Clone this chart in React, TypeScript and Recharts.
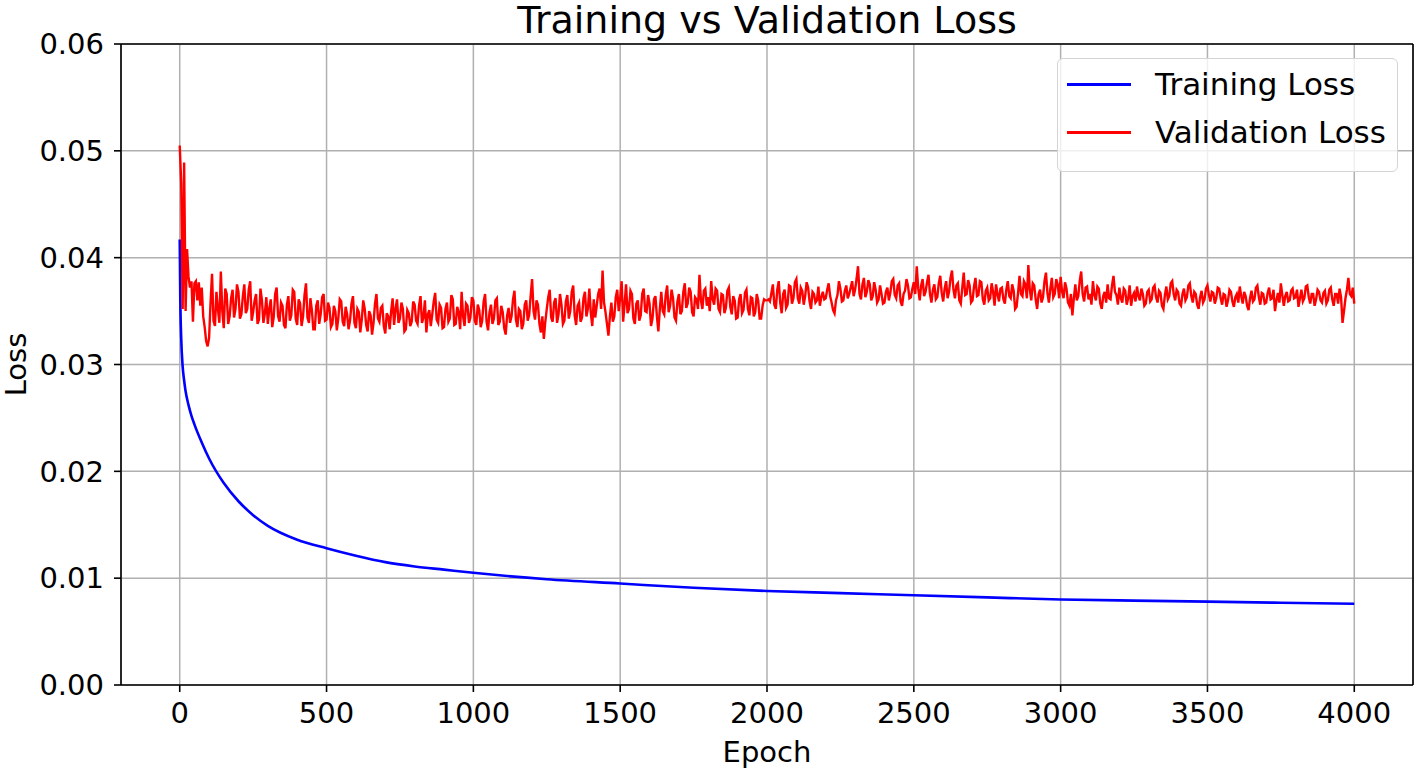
import React from "react";
import { LineChart, Line, XAxis, YAxis, CartesianGrid, Legend, ReferenceLine } from "recharts";

const FONT = "'DejaVu Sans', sans-serif";

// axis ticks
const epochTicks = [0, 500, 1000, 1500, 2000, 2500, 3000, 3500, 4000];
const lossTicks = [0, 0.01, 0.02, 0.03, 0.04, 0.05, 0.06];

// training loss (smooth curve, read at selected epochs)
const trainEpochs = [0, 2, 5, 10, 15, 20, 30, 40, 50, 75, 100, 150, 200, 250, 300, 400, 500, 600, 700, 800, 900, 1000, 1250, 1500, 1750, 2000, 2250, 2500, 2750, 3000, 3250, 3500, 3750, 4000];
const trainLoss = [0.0417, 0.036, 0.0325, 0.0298, 0.0285, 0.0275, 0.0262, 0.0252, 0.0244, 0.0227, 0.0212, 0.0189, 0.0172, 0.0159, 0.0149, 0.0136, 0.0128, 0.0121, 0.0115, 0.0111, 0.0108, 0.0105, 0.0099, 0.0095, 0.0091, 0.0088, 0.0086, 0.0084, 0.0082, 0.008, 0.0079, 0.0078, 0.0077, 0.0076];

// validation loss, epochs 0..95
const valEarlyEpochs = [0, 5, 10, 15, 20, 25, 30, 35, 40, 45, 50, 55, 60, 65, 70, 75, 80, 85, 90, 95];
const valEarlyLoss = [0.0505, 0.047, 0.0352, 0.0489, 0.035, 0.0408, 0.0382, 0.0372, 0.0378, 0.034, 0.0376, 0.0378, 0.036, 0.0377, 0.0355, 0.0372, 0.0345, 0.0335, 0.0322, 0.0317];

// validation loss, epochs 100..4000 every 5 (one row = 100 epochs)
const valMainStart = 100;
const valMainStep = 5;
const valMainLoss = [
  0.0325, 0.0358, 0.0385, 0.0341, 0.0336, 0.0368, 0.0352, 0.0339, 0.0387, 0.035, 0.0334, 0.0371, 0.0366, 0.0338, 0.0345, 0.0362, 0.037, 0.0344, 0.0352, 0.0375,
  0.0368, 0.0343, 0.0347, 0.0364, 0.0375, 0.0348, 0.0352, 0.037, 0.0378, 0.0341, 0.0349, 0.036, 0.0366, 0.0338, 0.0342, 0.0371, 0.036, 0.0339, 0.0348, 0.0363,
  0.0338, 0.0352, 0.0361, 0.0335, 0.0344, 0.0366, 0.0372, 0.0345, 0.034, 0.0358, 0.0355, 0.0337, 0.0334, 0.0356, 0.0364, 0.0341, 0.0346, 0.037, 0.0368, 0.0343,
  0.0337, 0.0361, 0.0357, 0.0336, 0.0345, 0.0365, 0.0376, 0.0344, 0.0339, 0.0362, 0.0351, 0.0333, 0.0333, 0.0355, 0.036, 0.0338, 0.0347, 0.0363, 0.0366, 0.0341,
  0.0342, 0.0358, 0.0353, 0.0335, 0.0338, 0.0355, 0.035, 0.0332, 0.0343, 0.0361, 0.0359, 0.034, 0.0336, 0.0354, 0.0347, 0.0333, 0.0341, 0.0357, 0.0364, 0.0339,
  0.0334, 0.0352, 0.0349, 0.033, 0.0342, 0.036, 0.0352, 0.0337, 0.0331, 0.035, 0.0346, 0.0328, 0.0339, 0.0357, 0.0366, 0.0343, 0.034, 0.0353, 0.0355, 0.0336,
  0.0329, 0.0348, 0.0345, 0.0333, 0.035, 0.0362, 0.0337, 0.0352, 0.0361, 0.0339, 0.0343, 0.0358, 0.0352, 0.0331, 0.0333, 0.0351, 0.0348, 0.0336, 0.034, 0.0359,
  0.0356, 0.0341, 0.0338, 0.0355, 0.0364, 0.0339, 0.0344, 0.036, 0.033, 0.0347, 0.0351, 0.0336, 0.0347, 0.0359, 0.0367, 0.0342, 0.0339, 0.0356, 0.0353, 0.0334,
  0.0335, 0.0352, 0.0358, 0.034, 0.0343, 0.0365, 0.0361, 0.0337, 0.0338, 0.0354, 0.0349, 0.0333, 0.0368, 0.0345, 0.0336, 0.0357, 0.0355, 0.0339, 0.0344, 0.0363,
  0.036, 0.0341, 0.0337, 0.0356, 0.0351, 0.0335, 0.0341, 0.0359, 0.0366, 0.034, 0.0332, 0.0349, 0.0356, 0.0338, 0.0343, 0.036, 0.0362, 0.0337, 0.034, 0.0355,
  0.0349, 0.0334, 0.0328, 0.0346, 0.0353, 0.0339, 0.0345, 0.0361, 0.0369, 0.0342, 0.0335, 0.0352, 0.035, 0.0333, 0.0338, 0.0356, 0.036, 0.0341, 0.0346, 0.0364,
  0.038, 0.035, 0.0342, 0.036, 0.0356, 0.0338, 0.033, 0.0345, 0.0324, 0.034, 0.0352, 0.0363, 0.037, 0.0344, 0.034, 0.0358, 0.0362, 0.0339, 0.0347, 0.0366,
  0.0356, 0.0338, 0.0341, 0.0359, 0.0365, 0.0343, 0.035, 0.0368, 0.0374, 0.0346, 0.0337, 0.0355, 0.0358, 0.034, 0.0344, 0.0362, 0.0368, 0.0345, 0.0352, 0.0371,
  0.0348, 0.0336, 0.0361, 0.0344, 0.0355, 0.0366, 0.0371, 0.0352, 0.0388, 0.0358, 0.0349, 0.0338, 0.0327, 0.0345, 0.0358, 0.034, 0.0345, 0.0363, 0.037, 0.035,
  0.0362, 0.0378, 0.034, 0.0356, 0.0375, 0.0348, 0.0352, 0.0369, 0.0366, 0.0343, 0.0338, 0.0357, 0.036, 0.0341, 0.0346, 0.0366, 0.0371, 0.035, 0.0349, 0.0365,
  0.0357, 0.0336, 0.0343, 0.0361, 0.0364, 0.0345, 0.0331, 0.0352, 0.0368, 0.035, 0.0347, 0.0365, 0.0374, 0.0349, 0.0355, 0.037, 0.0362, 0.0344, 0.0341, 0.0359,
  0.0366, 0.0347, 0.035, 0.0368, 0.0376, 0.0353, 0.0357, 0.0372, 0.0368, 0.0349, 0.0345, 0.0363, 0.0361, 0.0352, 0.0384, 0.036, 0.0352, 0.0369, 0.0371, 0.0355,
  0.0363, 0.035, 0.0378, 0.0361, 0.0356, 0.0371, 0.0369, 0.0352, 0.0349, 0.0366, 0.0365, 0.0348, 0.0353, 0.0369, 0.0372, 0.0354, 0.0347, 0.0364, 0.036, 0.0343,
  0.0344, 0.0361, 0.0366, 0.0348, 0.0351, 0.0367, 0.037, 0.0352, 0.0346, 0.0363, 0.0362, 0.0345, 0.0349, 0.0366, 0.036, 0.0343, 0.0343, 0.0355, 0.0361, 0.036,
  0.036, 0.0361, 0.0359, 0.0367, 0.0375, 0.0356, 0.0352, 0.037, 0.0378, 0.0358, 0.0348, 0.0366, 0.037, 0.0353, 0.0356, 0.0374, 0.0373, 0.0357, 0.0362, 0.0377,
  0.038, 0.0362, 0.0357, 0.0372, 0.0369, 0.0356, 0.0364, 0.0377, 0.0372, 0.0359, 0.0352, 0.0368, 0.0366, 0.0358, 0.036, 0.0373, 0.0355, 0.0363, 0.0368, 0.0361,
  0.0362, 0.037, 0.0376, 0.0364, 0.0358, 0.0351, 0.0348, 0.036, 0.0365, 0.0378, 0.0371, 0.0359, 0.036, 0.0369, 0.0374, 0.0362, 0.0366, 0.0372, 0.0378, 0.0364,
  0.037, 0.038, 0.0392, 0.0366, 0.0361, 0.0375, 0.0381, 0.0363, 0.0368, 0.0379, 0.0375, 0.036, 0.0364, 0.0377, 0.037, 0.0358, 0.0361, 0.0374, 0.0366, 0.0357,
  0.0358, 0.0368, 0.0372, 0.036, 0.0367, 0.0378, 0.038, 0.0365, 0.0362, 0.0374, 0.0376, 0.0359, 0.0355, 0.0366, 0.0369, 0.038, 0.0374, 0.0362, 0.0363, 0.0371,
  0.0377, 0.0366, 0.0392, 0.0371, 0.036, 0.0374, 0.038, 0.0364, 0.0368, 0.0377, 0.0384, 0.0366, 0.0358, 0.037, 0.0375, 0.0361, 0.0363, 0.0376, 0.0383, 0.0367,
  0.0359, 0.0371, 0.0378, 0.0362, 0.0368, 0.0381, 0.0388, 0.037, 0.0362, 0.0374, 0.0376, 0.036, 0.0357, 0.0372, 0.0386, 0.0365, 0.0366, 0.0379, 0.0374, 0.0358,
  0.036, 0.0373, 0.0381, 0.0364, 0.0365, 0.0378, 0.0377, 0.0361, 0.0356, 0.0369, 0.0372, 0.036, 0.0362, 0.0376, 0.0368, 0.0355, 0.0375, 0.0366, 0.0359, 0.0371,
  0.0372, 0.0361, 0.0357, 0.037, 0.0378, 0.0364, 0.0362, 0.0375, 0.0369, 0.0352, 0.0354, 0.0367, 0.0383, 0.0366, 0.0364, 0.0378, 0.0375, 0.0362, 0.0393, 0.037,
  0.036, 0.0376, 0.0374, 0.0361, 0.0352, 0.0366, 0.037, 0.0358, 0.0363, 0.0378, 0.0386, 0.0367, 0.0358, 0.0371, 0.0381, 0.0363, 0.0366, 0.038, 0.0375, 0.0362,
  0.0382, 0.0368, 0.0362, 0.0377, 0.0371, 0.0358, 0.0355, 0.0366, 0.0346, 0.0362, 0.0375, 0.036, 0.0364, 0.0378, 0.0387, 0.0366, 0.0359, 0.0372, 0.0373, 0.0361,
  0.0366, 0.0356, 0.0378, 0.0365, 0.036, 0.0373, 0.0371, 0.0357, 0.0352, 0.0364, 0.0368, 0.0358, 0.0375, 0.0362, 0.0361, 0.0374, 0.0383, 0.0368, 0.0365, 0.0356,
  0.0372, 0.0362, 0.0358, 0.0371, 0.0369, 0.0356, 0.0362, 0.0374, 0.0355, 0.0364, 0.0367, 0.0359, 0.0373, 0.0364, 0.036, 0.0371, 0.0366, 0.0355, 0.0357, 0.0368,
  0.037, 0.0359, 0.0361, 0.0372, 0.0374, 0.0363, 0.0358, 0.0369, 0.0367, 0.0355, 0.0352, 0.0365, 0.0373, 0.0361, 0.0364, 0.0376, 0.0378, 0.0366, 0.036, 0.037,
  0.0368, 0.0357, 0.0355, 0.0366, 0.0371, 0.036, 0.0363, 0.0374, 0.0376, 0.0364, 0.0358, 0.0368, 0.0366, 0.0356, 0.0352, 0.0363, 0.0369, 0.0358, 0.0361, 0.0371,
  0.0374, 0.0365, 0.0359, 0.0368, 0.0367, 0.0357, 0.0362, 0.0372, 0.0371, 0.0362, 0.0356, 0.0366, 0.0365, 0.0354, 0.036, 0.037, 0.0368, 0.0359, 0.0354, 0.0363,
  0.0366, 0.0358, 0.0373, 0.0364, 0.0357, 0.0368, 0.0364, 0.0355, 0.0351, 0.0362, 0.0369, 0.0359, 0.0361, 0.0372, 0.0374, 0.0363, 0.0356, 0.0367, 0.0366, 0.0357,
  0.0358, 0.0367, 0.0372, 0.0361, 0.0362, 0.037, 0.035, 0.036, 0.0367, 0.0358, 0.0376, 0.0365, 0.0355, 0.0364, 0.0368, 0.0359, 0.036, 0.0369, 0.0371, 0.0362,
  0.0363, 0.037, 0.0354, 0.0362, 0.037, 0.0359, 0.0362, 0.0373, 0.0374, 0.0363, 0.0357, 0.0366, 0.0366, 0.0355, 0.0361, 0.037, 0.0368, 0.036, 0.0358, 0.0367,
  0.0369, 0.0357, 0.036, 0.037, 0.0372, 0.0361, 0.0355, 0.0366, 0.0366, 0.0357, 0.0371, 0.0363, 0.0339, 0.035, 0.0362, 0.037, 0.0381, 0.0366, 0.0364, 0.0372,
  0.0357,
];

const trainData = trainEpochs.map((epoch, i) => ({ epoch, loss: trainLoss[i] }));
const valData = [
  ...valEarlyEpochs.map((epoch, i) => ({ epoch, loss: valEarlyLoss[i] })),
  ...valMainLoss.map((loss, i) => ({ epoch: valMainStart + i * valMainStep, loss })),
];

const legendItems = [
  { name: "Training Loss", color: "#0000ff" },
  { name: "Validation Loss", color: "#ff0000" },
];

const LegendBox = () => (
  <div
    style={{
      position: "relative",
      width: 341,
      height: 114,
      boxSizing: "border-box",
      border: "1.5px solid #d4d4d4",
      borderRadius: 6,
      background: "rgba(255,255,255,0.8)",
      fontFamily: FONT,
      fontSize: 31,
      color: "#000",
    }}
  >
    {legendItems.map((item, i) => (
      <React.Fragment key={item.name}>
        <div
          style={{
            position: "absolute",
            left: 9,
            top: 25 + i * 48 - 1.5,
            width: 64,
            height: 3,
            background: item.color,
          }}
        />
        <div style={{ position: "absolute", left: 97, top: 25 + i * 48 - 19, lineHeight: "38px", whiteSpace: "nowrap" }}>
          {item.name}
        </div>
      </React.Fragment>
    ))}
  </div>
);

const YLabel = ({ viewBox }: any) => {
  const x = viewBox.x + 26;
  const y = viewBox.y + viewBox.height / 2;
  return (
    <text x={x} y={y} transform={`rotate(-90, ${x}, ${y})`} textAnchor="middle" fontFamily={FONT} fontSize={29} fill="#000">
      Loss
    </text>
  );
};

const XLabel = ({ viewBox }: any) => {
  const x = viewBox.x + viewBox.width / 2;
  const y = viewBox.y + 77;
  return (
    <text x={x} y={y} textAnchor="middle" fontFamily={FONT} fontSize={29} fill="#000">
      Epoch
    </text>
  );
};

export default function App() {
  return (
    <div style={{ position: "absolute", left: 0, top: 0, width: 1417, height: 771, background: "#fff" }}>
      <div
        style={{
          position: "absolute",
          left: 121,
          width: 1292,
          top: 0,
          height: 40,
          lineHeight: "40px",
          textAlign: "center",
          fontFamily: FONT,
          fontSize: 38,
          color: "#000",
          whiteSpace: "nowrap",
        }}
      >
        Training vs Validation Loss
      </div>
      <LineChart width={1417} height={771} margin={{ top: 44, right: 4, bottom: 0, left: 0 }}>
        <CartesianGrid stroke="#b0b0b0" strokeWidth={1.5} />
        <XAxis
          dataKey="epoch"
          type="number"
          domain={[-200, 4200]}
          ticks={epochTicks}
          height={86}
          tickSize={7}
          tickMargin={10}
          axisLine={{ stroke: "#000", strokeWidth: 1.6 }}
          tickLine={{ stroke: "#000", strokeWidth: 1.6 }}
          tick={{ fill: "#000", fontFamily: FONT, fontSize: 29 }}
          label={<XLabel />}
          allowDataOverflow
        />
        <YAxis
          type="number"
          domain={[0, 0.06]}
          ticks={lossTicks}
          width={121}
          tickSize={7}
          tickMargin={10}
          tickFormatter={(v: number) => v.toFixed(2)}
          axisLine={{ stroke: "#000", strokeWidth: 1.6 }}
          tickLine={{ stroke: "#000", strokeWidth: 1.6 }}
          tick={{ fill: "#000", fontFamily: FONT, fontSize: 29 }}
          label={<YLabel />}
          allowDataOverflow
        />
        <ReferenceLine y={0.06} stroke="#000" strokeWidth={1.6} />
        <ReferenceLine x={4200} stroke="#000" strokeWidth={1.6} />
        <Line
          data={trainData}
          dataKey="loss"
          name="Training Loss"
          stroke="#0000ff"
          strokeWidth={2.6}
          dot={false}
          type="monotone"
          isAnimationActive={false}
        />
        <Line
          data={valData}
          dataKey="loss"
          name="Validation Loss"
          stroke="#ff0000"
          strokeWidth={2.4}
          dot={false}
          type="linear"
          isAnimationActive={false}
        />
        <Legend
          layout="horizontal"
          verticalAlign="middle"
          align="center"
          content={() => <LegendBox />}
          wrapperStyle={{ left: 1057, top: 58, width: 341, height: 114 }}
        />
      </LineChart>
    </div>
  );
}
